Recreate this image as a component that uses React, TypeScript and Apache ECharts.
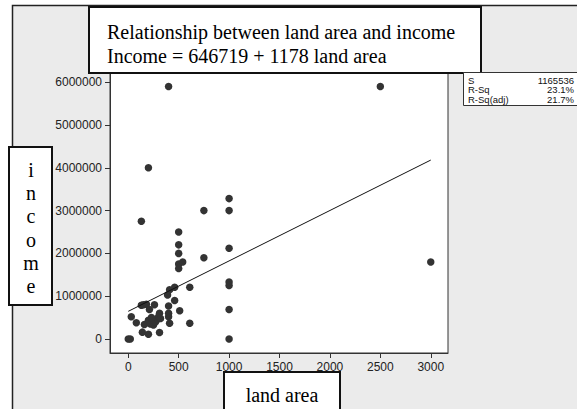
import React, { useEffect, useRef } from "react";
import * as echarts from "echarts";

const landArea = [
  0, 20, 30, 80, 140, 200, 310, 130, 150, 180, 260, 210, 160, 200, 220, 240, 250, 270, 290, 300,
  310, 400, 410, 390, 460, 460, 510, 400, 400, 410, 610, 610, 1000, 1000, 1000, 1000, 1000, 1000,
  1000, 750, 750, 500, 500, 500, 500, 540, 500, 130, 200, 400, 2500, 3000, 230, 320,
];
const income = [
  0, 0, 520000, 380000, 160000, 110000, 150000, 790000, 800000, 810000, 800000, 690000, 340000,
  440000, 350000, 460000, 330000, 400000, 460000, 520000, 600000, 770000, 1150000, 1030000,
  1210000, 900000, 660000, 520000, 600000, 370000, 1210000, 370000, 690000, 0, 1330000, 1250000,
  2120000, 3000000, 3280000, 3000000, 1900000, 2500000, 2200000, 2000000, 1750000, 1800000,
  1650000, 2750000, 4000000, 5900000, 5900000, 1800000, 500000, 480000,
];
const fitLand = [0, 3000];
const fitIncome = [646719, 4180719];
const xTicks = [0, 500, 1000, 1500, 2000, 2500, 3000];
const yTicks = [0, 1000000, 2000000, 3000000, 4000000, 5000000, 6000000];
const titleLines = ["Relationship between land area and income", "Income = 646719 + 1178 land area"];
const statsLabels = ["S", "R-Sq", "R-Sq(adj)"];
const statsValues = ["1165536", "23.1%", "21.7%"];
const yTitleLetters = ["i", "n", "c", "o", "m", "e"];
const xTitle = "land area";

const SERIF = '"Liberation Serif", "Times New Roman", serif';
const SANS = '"Liberation Sans", Arial, sans-serif';

export default function App() {
  const ref = useRef<HTMLDivElement>(null);
  useEffect(() => {
    document.body.style.margin = "0";
    const chart = echarts.init(ref.current!, null, { renderer: "svg" });
    const txt = (text: string, x: number, y: number, size: number, family: string, align = "left", color = "#000") => ({
      type: "text",
      z: 101,
      x,
      y,
      silent: true,
      style: {
        text,
        fontSize: size,
        fontFamily: family,
        fill: color,
        align,
        textAlign: align,
        verticalAlign: "middle",
        textVerticalAlign: "middle",
      },
    });
    const graphic: any[] = [
      {
        type: "rect",
        z: -10,
        silent: true,
        shape: { x: 12.5, y: 5.5, width: 620, height: 460 },
        style: { fill: "#ebebeb", stroke: "#222", lineWidth: 1.5 },
      },
      {
        type: "rect",
        z: 100,
        silent: true,
        shape: { x: 89, y: 7, width: 392, height: 66 },
        style: { fill: "#fff", stroke: "#111", lineWidth: 2 },
      },
      txt(titleLines[0], 107, 32, 20, SERIF),
      txt(titleLines[1], 107, 56, 20, SERIF),
      {
        type: "rect",
        z: 100,
        silent: true,
        shape: { x: 463.5, y: 72.5, width: 130, height: 33 },
        style: { fill: "#fff", stroke: "#333", lineWidth: 1 },
      },
      {
        type: "rect",
        z: 100,
        silent: true,
        shape: { x: 9, y: 147, width: 43, height: 158 },
        style: { fill: "#fff", stroke: "#111", lineWidth: 2 },
      },
      {
        type: "rect",
        z: 100,
        silent: true,
        shape: { x: 224, y: 372, width: 116, height: 60 },
        style: { fill: "#fff", stroke: "#111", lineWidth: 2 },
      },
      txt(xTitle, 282, 395, 20, SERIF, "center"),
    ];
    statsLabels.forEach((l, i) => {
      graphic.push(txt(l, 468, 80 + i * 9.5, 9.5, SANS, "left", "#111"));
      graphic.push(txt(statsValues[i], 574, 80 + i * 9.5, 9.5, SANS, "right", "#111"));
    });
    yTitleLetters.forEach((l, i) => {
      graphic.push(txt(l, 31, 170 + i * 23.2, 20, SERIF, "center"));
    });

    const plain = (v: number) => String(v);

    chart.setOption({
      animation: false,
      backgroundColor: "#fff",
      grid: {
        show: true,
        left: 110,
        top: 73,
        width: 338,
        height: 280,
        backgroundColor: "#fff",
        borderColor: "#333",
        borderWidth: 1,
      },
      xAxis: {
        type: "value",
        min: -181,
        max: 3171,
        splitLine: { show: false },
        axisLine: { show: true, onZero: false, lineStyle: { color: "#333", width: 1 } },
        axisTick: { show: true, length: 5, customValues: xTicks, lineStyle: { color: "#333" } },
        axisLabel: { customValues: xTicks, formatter: plain, fontSize: 12, fontFamily: SANS, color: "#222", margin: 8 },
      },
      yAxis: {
        type: "value",
        min: -327000,
        max: 6215000,
        splitLine: { show: false },
        axisLine: { show: true, onZero: false, lineStyle: { color: "#333", width: 1 } },
        axisTick: { show: true, length: 5, customValues: yTicks, lineStyle: { color: "#333" } },
        axisLabel: { customValues: yTicks, formatter: plain, fontSize: 12, fontFamily: SANS, color: "#222", margin: 8 },
      },
      series: [
        {
          type: "scatter",
          data: landArea.map((x, i) => [x, income[i]]),
          symbolSize: 7.5,
          itemStyle: { color: "#333", opacity: 1 },
          z: 3,
        },
        {
          type: "line",
          data: fitLand.map((x, i) => [x, fitIncome[i]]),
          showSymbol: false,
          symbol: "none",
          lineStyle: { color: "#111", width: 1 },
          z: 4,
        },
      ],
      graphic,
    });
    return () => chart.dispose();
  }, []);
  return <div ref={ref} style={{ width: 577, height: 409 }} />;
}
